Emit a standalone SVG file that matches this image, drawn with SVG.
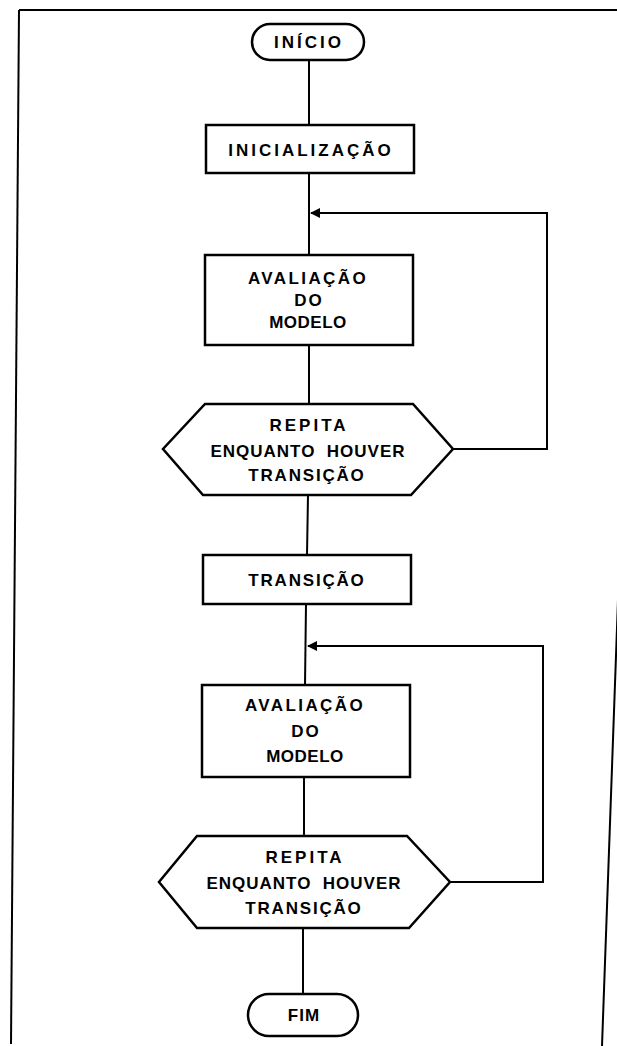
<svg xmlns="http://www.w3.org/2000/svg" width="617" height="1046" viewBox="0 0 617 1046">
<style>
.frame{fill:none;stroke:#000;stroke-width:2}
.shape{fill:#fff;stroke:#000;stroke-width:2.5}
.conn{fill:none;stroke:#000;stroke-width:2}
.t{font-family:"Liberation Sans",Arial,sans-serif;font-weight:bold;font-size:17px;fill:#000;text-anchor:middle;dominant-baseline:central}
</style>
<defs>
<marker id="arr" viewBox="0 0 10 10" refX="9" refY="5" markerWidth="5" markerHeight="5" orient="auto" markerUnits="strokeWidth">
<path d="M0,0 L10,5 L0,10 z" fill="#000"/>
</marker>
</defs>
<g id="frame">
<path class="frame" d="M19,10 L617,10"/>
<path class="frame" d="M19,10 L11,1044"/>
<path class="frame" d="M618,600 L602,1046"/>
</g>
<g id="connectors">
<path class="conn" d="M309,59 L309,125"/>
<path class="conn" d="M309,173 L309,255"/>
<path class="conn" d="M453,449 L547,449 L547,213 L311,213" marker-end="url(#arr)"/>
<path class="conn" d="M309,345 L309,404"/>
<path class="conn" d="M308,495 L307,555"/>
<path class="conn" d="M306,604 L305,685"/>
<path class="conn" d="M450,882 L543,882 L543,646 L308,646" marker-end="url(#arr)"/>
<path class="conn" d="M304,777 L304,836"/>
<path class="conn" d="M303,928 L303,994"/>
</g>
<g id="inicio">
<rect class="shape" x="252" y="24" width="112" height="36" rx="18"/>
<text class="t" x="309" y="42" style="letter-spacing:3px">INÍCIO</text>
</g>
<g id="inicializacao">
<rect class="shape" x="206" y="125" width="208" height="48"/>
<text class="t" x="311" y="150" style="letter-spacing:3px">INICIALIZAÇÃO</text>
</g>
<g id="avaliacao1">
<rect class="shape" x="205" y="255" width="208" height="90"/>
<text class="t" x="308" y="278" style="letter-spacing:2.4px">AVALIAÇÃO</text>
<text class="t" x="309" y="300" style="letter-spacing:2px">DO</text>
<text class="t" x="308" y="322" style="letter-spacing:0.5px">MODELO</text>
</g>
<g id="repita1">
<polygon class="shape" points="205,404 413,404 453,449 411,495 203,495 163,449"/>
<text class="t" x="309" y="425" style="letter-spacing:3px">REPITA</text>
<text class="t" x="308" y="451" style="letter-spacing:1px" xml:space="preserve">ENQUANTO  HOUVER</text>
<text class="t" x="307" y="475" style="letter-spacing:1.8px">TRANSIÇÃO</text>
</g>
<g id="transicao">
<rect class="shape" x="203" y="555" width="208" height="49"/>
<text class="t" x="307" y="580" style="letter-spacing:1.8px">TRANSIÇÃO</text>
</g>
<g id="avaliacao2">
<rect class="shape" x="202" y="685" width="208" height="92"/>
<text class="t" x="305" y="705" style="letter-spacing:2.4px">AVALIAÇÃO</text>
<text class="t" x="306" y="731" style="letter-spacing:2px">DO</text>
<text class="t" x="305" y="756" style="letter-spacing:0.5px">MODELO</text>
</g>
<g id="repita2">
<polygon class="shape" points="197,836 407,836 450,882 409,928 197,928 159,882"/>
<text class="t" x="305" y="857" style="letter-spacing:3px">REPITA</text>
<text class="t" x="304" y="883" style="letter-spacing:1px" xml:space="preserve">ENQUANTO  HOUVER</text>
<text class="t" x="304" y="908" style="letter-spacing:1.8px">TRANSIÇÃO</text>
</g>
<g id="fim">
<rect class="shape" x="248" y="994" width="110" height="42" rx="21"/>
<text class="t" x="304" y="1015" style="letter-spacing:1px">FIM</text>
</g>
</svg>
